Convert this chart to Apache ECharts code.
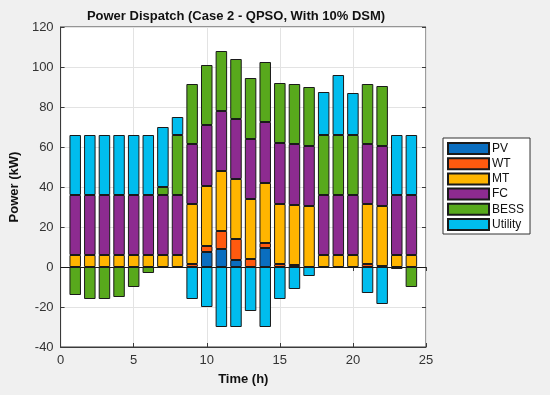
<!DOCTYPE html>
<html>
<head>
<meta charset="utf-8">
<script src="https://cdn.jsdelivr.net/npm/echarts@6/dist/echarts.min.js"></script>
<style>html,body{margin:0;padding:0;background:#F0F0F0;}#c{width:550px;height:395px;}</style>
</head>
<body>
<div id="c"></div>
<script>
var hours = [1,2,3,4,5,6,7,8,9,10,11,12,13,14,15,16,17,18,19,20,21,22,23,24];
var PV      = [0,0,0,0,0,0,0,0,0,7.5,9,3.5,0,9.5,0,0,0,0,0,0,0,0,0,0];
var WT      = [0,0,0,0,0,0,0,0,1.5,3,9,10.5,4,2.5,1.5,1,0,0,0,0,1.5,0.5,0,0];
var MT      = [6,6,6,6,6,6,6,6,30,30,30,30,30,30,30,30,30.5,6,6,6,30,30,6,6];
var FC      = [30,30,30,30,30,30,30,30,30,30.5,30,30,30,30.5,30.5,30.5,30,30,30,30,30,30,30,30];
var BESS    = [-14,-16,-16,-15,-10,-3,4,30,30,30,30,30,30.5,30,30,30,29.5,30,30,30,30,30,-1,-10];
var Utility = [30,30,30,30,30,30,30,9,-16,-20,-30,-30,-22,-30,-16,-11,-4.5,21.5,30,21,-13,-18.5,30,30];
var yTicks = [-40,-20,0,20,40,60,80,100,120];
var xTicks = [0,5,10,15,20,25];

var names = ['PV','WT','MT','FC','BESS','Utility'];
var colors = ['#0A6EC0','#FF5A0F','#FFB500','#8D2B90','#58A91C','#00BDEE'];
var arrs = [PV,WT,MT,FC,BESS,Utility];
var font = 'Liberation Sans, Arial, sans-serif';

// category slots 0..25, bars at hours 1..24
var cats = [0].concat(hours, [25]).map(String);

var series = names.map(function(n,i){
  var vals = cats.map(function(c){
    var idx = hours.indexOf(Number(c));
    if (idx < 0) return '-';
    var v = arrs[i][idx];
    return v === 0 ? '-' : v;
  });
  var s = {
    name: n, type: 'bar', stack: 'p', barWidth: 11.5,
    data: vals,
    itemStyle: { color: colors[i], borderColor: '#1a1a1a', borderWidth: 1 },
    emphasis: { disabled: true },
    z: 3
  };
  if (i === 0) {
    s.markLine = { silent: true, symbol: 'none', label: {show:false},
      lineStyle: { color: '#1a1a1a', width: 1, type: 'solid' },
      data: [{ yAxis: 0 }], z: 5 };
  }
  return s;
});

function onTick(i){ return xTicks.indexOf(i) >= 0; }

var chart = echarts.init(document.getElementById('c'), null, {renderer:'canvas'});
chart.setOption({
  animation: false,
  backgroundColor: '#F0F0F0',
  title: { text: 'Power Dispatch (Case 2 - QPSO, With 10% DSM)', left: 231, top: 5, textAlign: 'center',
    textStyle: { fontFamily: font, fontSize: 13, fontWeight: 'bold', color: '#111' } },
  grid: { left: 59, right: 124, top: 27, bottom: 48, show: true, backgroundColor: '#fff', borderColor: '#3a3a3a', borderWidth: 1 },
  legend: { orient: 'vertical', left: 443, top: 138, data: names, icon: 'rect',
    itemWidth: 41, itemHeight: 11, itemGap: 2.2, padding: [4,6,3,4],
    backgroundColor: '#fff', borderColor: '#333', borderWidth: 1,
    textStyle: { fontFamily: font, fontSize: 12, color: '#111', lineHeight: 13, padding: [0,0,0,-2] } },
  xAxis: [{ type: 'category', data: cats, boundaryGap: false,
    name: 'Time (h)', nameLocation: 'middle', nameGap: 26,
    nameTextStyle: { fontFamily: font, fontSize: 13, fontWeight: 'bold', color: '#111' },
    axisLine: { show: true, onZero: false, lineStyle: { color: '#3a3a3a' } },
    axisTick: { show: true, inside: true, length: 4, interval: onTick, lineStyle: { color: '#3a3a3a' } },
    axisLabel: { fontFamily: font, fontSize: 13, color: '#333', margin: 7, interval: onTick },
    splitLine: { show: true, interval: onTick, lineStyle: { color: '#e3e3e3' } } },
    { type: 'category', data: cats, boundaryGap: false, position: 'top',
    axisLine: { show: false }, axisTick: { show: true, inside: true, length: 4, interval: onTick, lineStyle: { color: '#3a3a3a' } },
    axisLabel: { show: false }, splitLine: { show: false } }],
  yAxis: [{ type: 'value', min: -40, max: 120, interval: 20,
    name: 'Power (kW)', nameLocation: 'middle', nameGap: 35, nameRotate: 90,
    nameTextStyle: { fontFamily: font, fontSize: 13, fontWeight: 'bold', color: '#111' },
    axisLine: { show: true, lineStyle: { color: '#3a3a3a' } },
    axisTick: { show: true, inside: true, length: 4, lineStyle: { color: '#3a3a3a' } },
    axisLabel: { fontFamily: font, fontSize: 13, color: '#333', margin: 7 },
    splitLine: { show: true, lineStyle: { color: '#e3e3e3' } } },
    { type: 'value', min: -40, max: 120, interval: 20, position: 'right',
    axisLine: { show: false }, axisTick: { show: true, inside: true, length: 4, lineStyle: { color: '#3a3a3a' } },
    axisLabel: { show: false }, splitLine: { show: false } }],
  series: series
});
</script>
</body>
</html>
